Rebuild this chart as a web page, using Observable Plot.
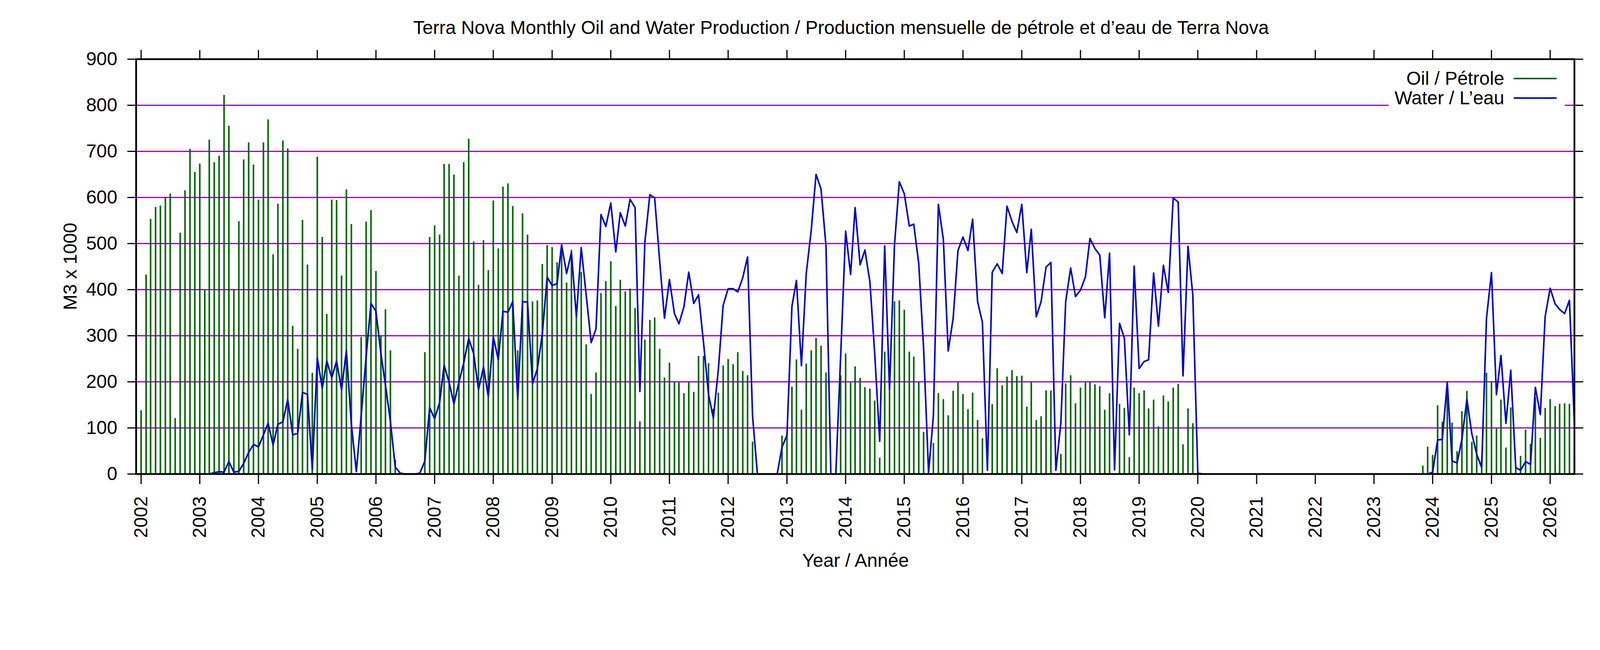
<!DOCTYPE html>
<html>
<head>
<meta charset="utf-8">
<script src="https://cdn.jsdelivr.net/npm/d3@7"></script>
<script src="https://cdn.jsdelivr.net/npm/@observablehq/plot@0.6"></script>
<style>
html,body{margin:0;padding:0;background:#fff;overflow:hidden;}
#wrap{position:absolute;left:0;top:0;height:1664px;font-family:"Liberation Sans",Arial,Helvetica,sans-serif;color:#000;overflow:hidden;}
#title{position:relative;height:110px;}
#title span{position:absolute;top:70px;transform:translate(-50%,-50%);white-space:nowrap;}
#chart svg{display:block;max-width:none;}
.ov{position:absolute;white-space:nowrap;}
#legend{position:absolute;background:#fff;}
#legend .t{position:absolute;white-space:nowrap;}
#legend .l{position:absolute;height:4px;}
</style>
</head>
<body>
<div id="wrap">
  <div id="title"><span id="ttl">Terra Nova Monthly Oil and Water Production / Production mensuelle de pétrole et d’eau de Terra Nova</span></div>
  <div id="chart"></div>
  <div class="ov" id="ylab">M3 x 1000</div>
  <div class="ov" id="xlab">Year / Année</div>
  <div id="legend">
    <div class="t" id="t1">Oil / Pétrole</div>
    <div class="l" id="l1"></div>
    <div class="t" id="t2">Water / L’eau</div>
    <div class="l" id="l2"></div>
  </div>
</div>
<script>
// Monthly values, thousand m3, starting January 2002
const oil = [
  138, 432, 553, 579, 582, 599, 608, 121, 523, 615, 705, 655, // 2002
  673, 400, 725, 676, 690, 822, 755, 401, 548, 682, 719, 671, // 2003
  595, 719, 769, 476, 586, 723, 706, 321, 271, 551, 454, 219, // 2004
  688, 514, 347, 595, 594, 430, 617, 542, 0, 297, 547, 572,   // 2005
  440, 299, 357, 268, 31, 0, 0, 0, 0, 0, 264, 514,            // 2006
  539, 519, 672, 672, 649, 430, 676, 727, 504, 410, 507, 442, // 2007
  593, 489, 623, 630, 581, 268, 565, 519, 374, 376, 455, 496, // 2008
  492, 459, 497, 415, 486, 340, 438, 281, 173, 220, 392, 418, // 2009
  461, 364, 421, 396, 402, 360, 114, 291, 334, 339, 271, 209, // 2010
  241, 199, 198, 175, 199, 178, 256, 256, 240, 141, 176, 235, // 2011
  249, 238, 264, 223, 214, 70, 0, 0, 0, 0, 0, 83,             // 2012
  90, 189, 248, 139, 239, 268, 295, 278, 220, 0, 0, 214,      // 2013
  261, 198, 233, 208, 188, 185, 159, 35, 265, 180, 374, 376,  // 2014
  356, 265, 254, 199, 91, 0, 67, 175, 162, 127, 180, 198,     // 2015
  173, 140, 176, 117, 77, 0, 151, 229, 192, 211, 225, 212,    // 2016
  213, 146, 199, 117, 125, 181, 181, 0, 43, 196, 214, 153,    // 2017
  187, 198, 199, 194, 190, 139, 175, 0, 152, 143, 36, 187,    // 2018
  175, 181, 142, 161, 103, 170, 157, 187, 195, 64, 142, 110,  // 2019
  0, 0, 0, 0, 0, 0, 0, 0, 0, 0, 0, 0,                         // 2020
  0, 0, 0, 0, 0, 0, 0, 0, 0, 0, 0, 0,                         // 2021
  0, 0, 0, 0, 0, 0, 0, 0, 0, 0, 0, 0,                         // 2022
  0, 0, 0, 0, 0, 0, 0, 0, 0, 0, 18, 59,                       // 2023
  41, 149, 113, 173, 111, 49, 136, 180, 69, 83, 30, 219,      // 2024
  201, 99, 161, 57, 144, 15, 39, 96, 65, 166, 78, 143,        // 2025
  162, 147, 152, 153, 152, 43                                 // 2026
];
const water = [
  null, null, null, null, null, null, null, null, null, null, null, null, // 2002
  null, null, 0, 3, 5, 4, 27, 4, 6, 23, 47, 64,               // 2003
  59, 85, 110, 63, 108, 113, 162, 85, 88, 177, 173, 10,       // 2004
  252, 186, 245, 209, 245, 183, 268, 108, 5, 126, 255, 370,   // 2005
  353, 261, 193, 114, 15, 2, 0, 0, 0, 2, 28, 144,             // 2006
  120, 155, 236, 199, 152, 199, 241, 294, 261, 183, 232, 168, // 2007
  298, 248, 353, 351, 374, 162, 374, 373, 196, 228, 304, 427, // 2008
  409, 413, 497, 435, 481, 341, 491, 388, 285, 315, 563, 537, // 2009
  588, 482, 567, 538, 596, 578, 179, 503, 606, 599, 462, 338, // 2010
  422, 348, 326, 363, 438, 370, 389, 285, 173, 121, 226, 366, // 2011
  402, 402, 395, 426, 471, 126, 0, 0, 0, 0, 0, 58,            // 2012
  84, 364, 420, 235, 435, 529, 650, 618, 494, 0, 0, 255,      // 2013
  527, 433, 578, 454, 486, 417, 261, 71, 495, 182, 497, 634,  // 2014
  608, 538, 542, 456, 273, 3, 126, 585, 509, 267, 338, 485,   // 2015
  514, 485, 553, 374, 329, 8, 438, 456, 435, 581, 548, 524,   // 2016
  585, 437, 531, 341, 374, 449, 459, 8, 111, 374, 447, 385,   // 2017
  399, 428, 511, 489, 475, 339, 479, 9, 327, 295, 85, 451,    // 2018
  229, 244, 248, 436, 321, 453, 394, 599, 590, 213, 494, 388, // 2019
  2, 0, null, null, null, null, null, null, null, null, null, null, // 2020
  null, null, null, null, null, null, null, null, null, null, null, null, // 2021
  null, null, null, null, null, null, null, null, null, null, null, null, // 2022
  null, null, null, null, null, null, null, null, null, null, null, 0, // 2023
  4, 74, 75, 199, 28, 24, 75, 162, 87, 43, 14, 338,           // 2024
  437, 172, 257, 110, 225, 14, 8, 27, 21, 188, 129, 342,      // 2025
  403, 369, 357, 348, 377, 108                                // 2026
];
const years = [2002, 2003, 2004, 2005, 2006, 2007, 2008, 2009, 2010, 2011, 2012, 2013,
  2014, 2015, 2016, 2017, 2018, 2019, 2020, 2021, 2022, 2023, 2024, 2025, 2026];
const yTicks = [0, 100, 200, 300, 400, 500, 600, 700, 800, 900];
const gridLevels = [100, 200, 300, 400, 500, 600, 700, 800];

const rows = oil.map((v, i) => ({date: new Date(Date.UTC(2002, i, 1)), oil: v, water: water[i]}));
const yearTicks = years.map(y => new Date(Date.UTC(y, 0, 1)));
const font = '"Liberation Sans", Arial, Helvetica, sans-serif';

// Layout: page width follows the window, vertical layout fixed
const W = Math.min(window.innerWidth || 5483, 5483);
const kx = W / 5483;
const FS = 48;
const X = v => Math.round(v * kx);

const wrap = document.getElementById("wrap");
wrap.style.width = W + "px";
const ttl = document.getElementById("ttl");
ttl.style.left = X(2882) + "px";
ttl.style.fontSize = FS + "px";
const ylab = document.getElementById("ylab");
Object.assign(ylab.style, {left: X(239) + "px", top: "682px", fontSize: FS + "px", transform: "translate(-50%,-50%) rotate(-90deg)"});
const xlab = document.getElementById("xlab");
Object.assign(xlab.style, {left: X(2931) + "px", top: "1434px", fontSize: FS + "px", transform: "translate(-50%,-50%)"});

const chart = Plot.plot({
  width: W,
  height: 1554,
  marginTop: 41,
  marginBottom: 451,
  marginLeft: X(466),
  marginRight: X(89),
  style: {fontFamily: font, fontSize: FS + "px", background: "white", color: "black", overflow: "visible", maxWidth: "none"},
  x: {type: "utc", domain: [new Date(Date.UTC(2001, 11, 1)), new Date(Date.UTC(2026, 5, 1))]},
  y: {domain: [0, 900]},
  marks: [
    Plot.ruleY(gridLevels, {stroke: "#9400d3", strokeWidth: 3}),
    Plot.ruleX(rows.filter(d => d.oil > 0), {x: "date", y1: 0, y2: "oil", stroke: "#006400", strokeWidth: 4}),
    Plot.line(rows, {x: "date", y: "water", stroke: "#0000cd", strokeWidth: 4}),
    Plot.axisY({ticks: yTicks, tickSize: 22, tickPadding: 26, label: null, strokeWidth: 3, fontSize: FS}),
    Plot.axisY({anchor: "right", ticks: yTicks, tickSize: 22, tickFormat: () => "", label: null, strokeWidth: 3}),
    Plot.axisX({ticks: yearTicks, tickSize: 26, tickPadding: 31, tickRotate: -90, tickFormat: d3.utcFormat("%Y"), label: null, strokeWidth: 3, fontSize: FS}),
    Plot.axisX({anchor: "top", ticks: yearTicks, tickSize: 24, tickFormat: () => "", label: null, strokeWidth: 3}),
    Plot.frame({stroke: "black", strokeWidth: 4.5})
  ]
});
document.getElementById("chart").appendChild(chart);

// Legend box (opaque, hides the grid line behind it)
const legRight = X(5363), legTextRight = X(5155), lineL = X(5187), lineR = X(5334);
const t1 = document.getElementById("t1"), t2 = document.getElementById("t2");
[t1, t2].forEach(t => { t.style.fontSize = FS + "px"; t.style.lineHeight = "50px"; });
const textW = Math.max(t1.getBoundingClientRect().width, t2.getBoundingClientRect().width);
const legLeft = Math.min(X(4764), Math.round(legTextRight - textW - 15));
const legend = document.getElementById("legend");
Object.assign(legend.style, {left: legLeft + "px", top: "155px", width: (legRight - legLeft) + "px", height: "128px"});
t1.style.right = (legRight - legTextRight) + "px"; t1.style.top = "21px";
t2.style.right = (legRight - legTextRight) + "px"; t2.style.top = "71px";
const l1 = document.getElementById("l1"), l2 = document.getElementById("l2");
Object.assign(l1.style, {left: (lineL - legLeft) + "px", width: (lineR - lineL) + "px", top: "44px", background: "#006400"});
Object.assign(l2.style, {left: (lineL - legLeft) + "px", width: (lineR - lineL) + "px", top: "94px", background: "#0000cd"});
</script>
</body>
</html>
